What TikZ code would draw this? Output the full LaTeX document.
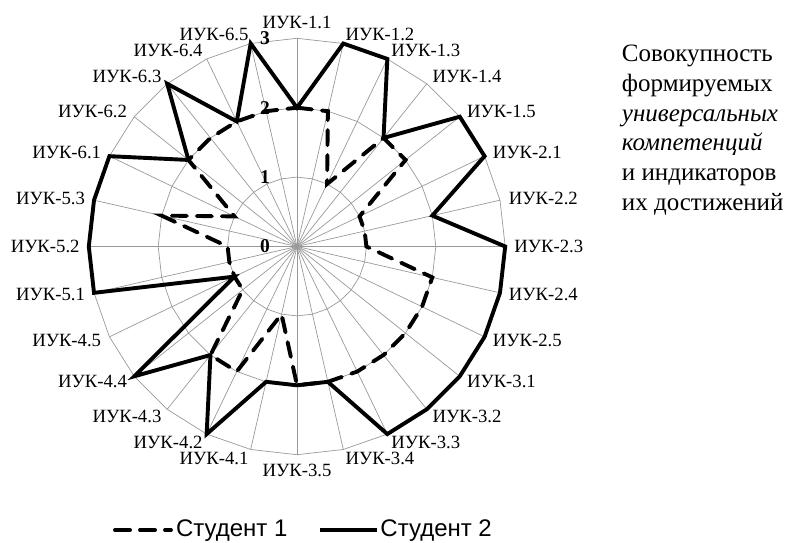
\documentclass[tikz,border=0pt]{standalone}
\usepackage{fontspec}
\setmainfont{Liberation Serif}
\setsansfont{Liberation Sans}
\usetikzlibrary{positioning}

\begin{document}
\begin{tikzpicture}[x=69.4pt,y=69.4pt,
	webline/.style={black!40,line width=0.7pt},
	axlabel/.style={inner sep=0pt,font=\fontsize{18.7}{20}\selectfont},
	scalenum/.style={inner sep=0pt,font=\fontsize{19.5}{22}\selectfont\bfseries},
	stuone/.style={line width=3.9pt,line cap=round,dash pattern=on 15pt off 10pt},
	stutwo/.style={line width=3.9pt},
	legtext/.style={inner sep=0pt,font=\sffamily\fontsize{24}{28}\selectfont},
	sidetext/.style={inner sep=0pt,font=\fontsize{25}{29.7}\selectfont}]
			\useasboundingbox (-4.2795,-4.258) rectangle (7.1182,3.5519);
			% web
			\foreach \r in {1,2,3}
				\draw[webline] (90:\r) \foreach \i in {1,...,27} { -- ({90-\i*360/28}:\r) } -- cycle;
			\foreach \t [count=\i from 0] in {1.1,1.2,1.3,1.4,1.5,2.1,2.2,2.3,2.4,2.5,3.1,3.2,3.3,3.4,3.5,4.1,4.2,4.3,4.4,4.5,5.1,5.2,5.3,6.1,6.2,6.3,6.4,6.5} {
				\pgfmathsetmacro\ang{90-\i*360/28}
				\ifnum\i=0 \def\anc{south}\else\ifnum\i<14 \def\anc{west}\else\ifnum\i=14 \def\anc{north}\else\def\anc{east}\fi\fi\fi
				\draw[webline] (0,0) -- (\ang:3);
				\node[axlabel,anchor=\anc] (ax\i) at (\ang:3.13) {ИУК-\t};
			}
			\foreach \v in {0,...,3}
				\node[scalenum] (num\v) at (-0.46,\v) {\v};
			% students
			\draw[stuone] (90:2) \foreach \v [count=\i] in {2,1,2,2,1,1,1,2,2,2,2,2,2,2,1,2,2,1,1,1,1,2,1,2,2,2,2} { -- ({90-\i*360/28}:\v) } -- cycle;
			\draw[stutwo] (90:2) \foreach \v [count=\i] in {3,3,2,3,3,2,3,3,3,3,3,3,2,2,2,3,2,3,1,3,3,3,3,2,3,2,3} { -- ({90-\i*360/28}:\v) } -- cycle;
			% side text
			\foreach \s [count=\k from 0] in {Совокупность,формируемых,\textit{универсальных},\textit{компетенций},и индикаторов,их достижений}
				\node[sidetext,anchor=base west] (side\k) at (4.679,2.663-0.428*\k) {\s};
			% legend
			\coordinate (d1) at (-2.622,-4.085);
			\coordinate (d2) at (-1.816,-4.085);
			\draw[stuone] (d1) -- (d2);
			\node[legtext,anchor=base west] (leg1) at (-1.745,-4.182) {Студент 1};
			\coordinate (s1) at (0.331,-4.085);
			\coordinate (s2) at (1.153,-4.085);
			\draw[stutwo] (s1) -- (s2);
			\node[legtext,anchor=base west] (leg2) at (1.2,-4.182) {Студент 2};
\end{tikzpicture}
\end{document}
